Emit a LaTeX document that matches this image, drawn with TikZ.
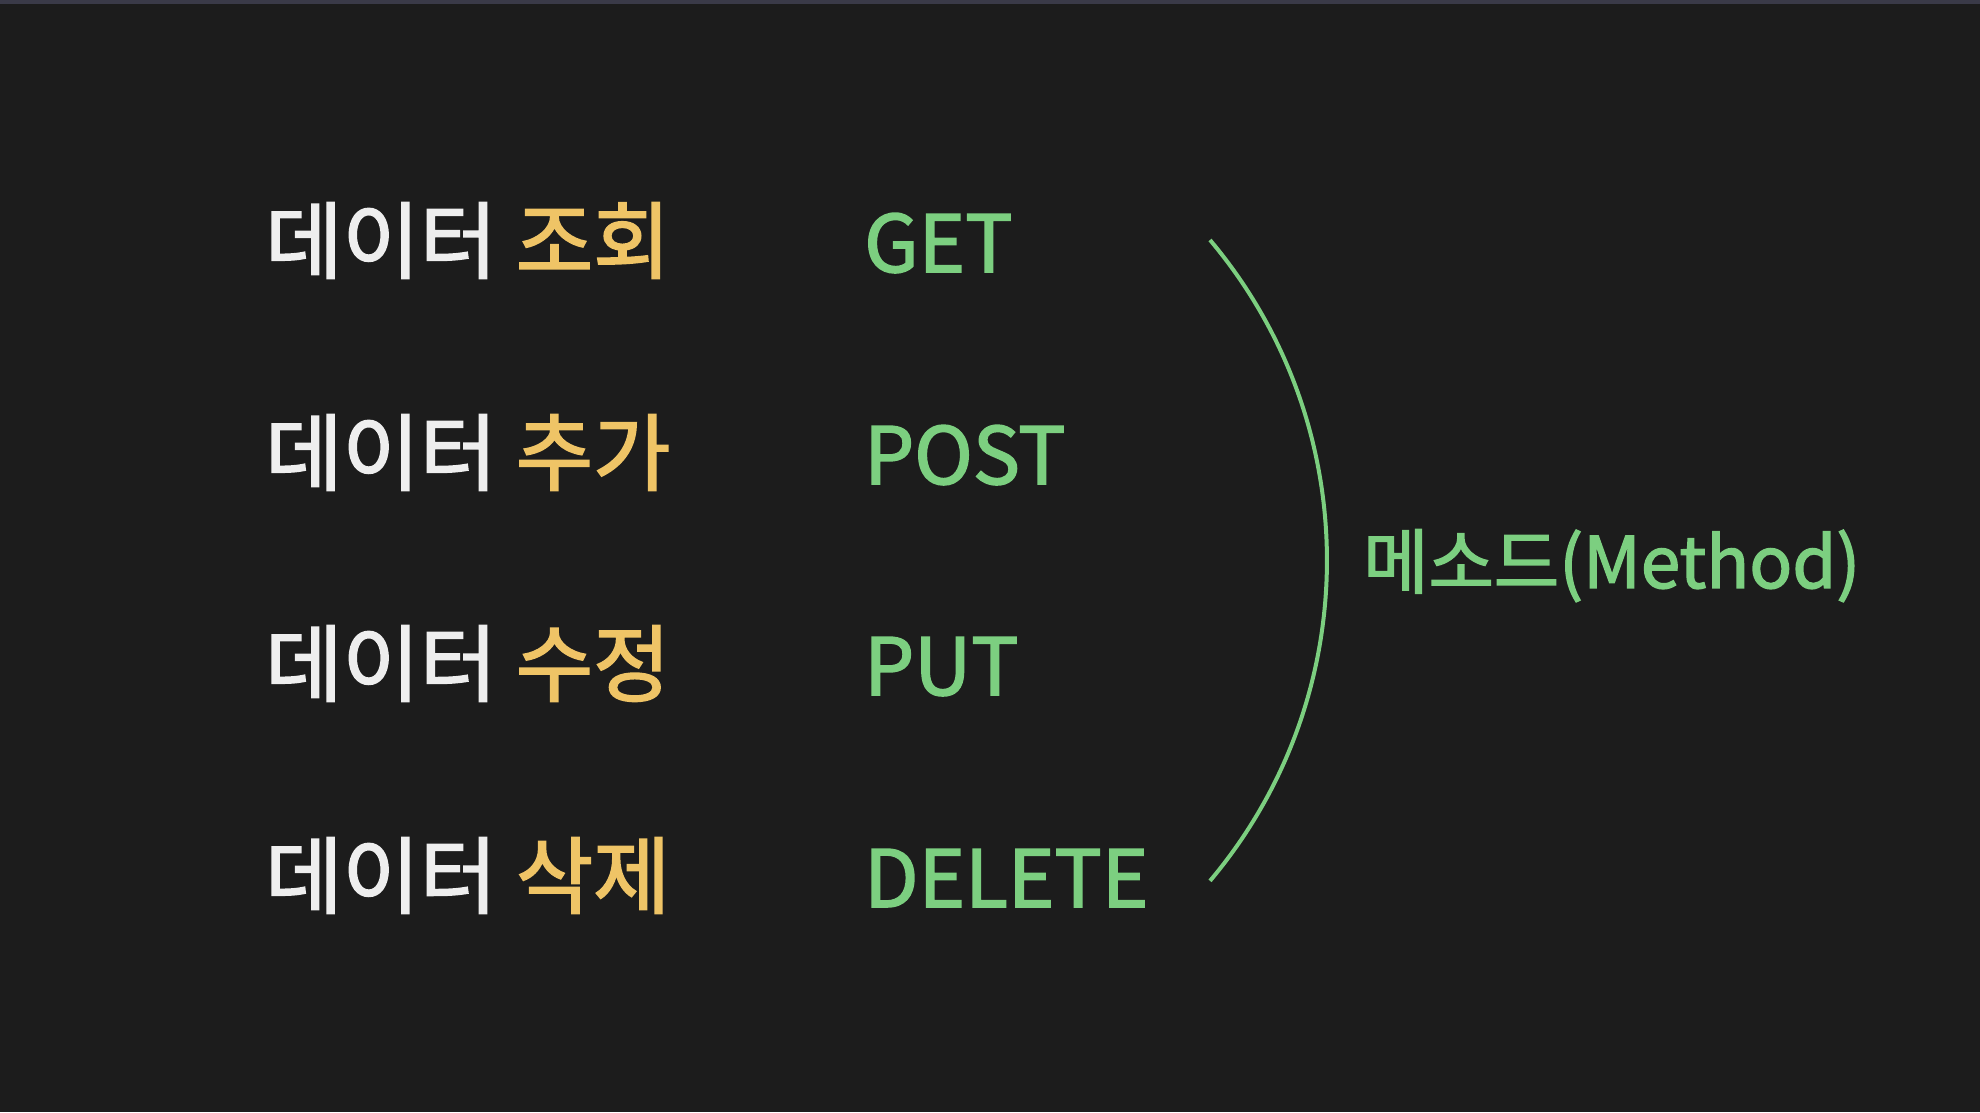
\documentclass[tikz,border=0pt]{standalone}
\usepackage{fontspec}
\setmainfont{Noto Sans CJK KR}[FakeBold=2]
\definecolor{bg}{HTML}{1C1C1C}
\definecolor{topbar}{HTML}{3A3A48}
\definecolor{txtwhite}{HTML}{EEEEEE}
\definecolor{txtyellow}{HTML}{EFC466}
\definecolor{txtgreen}{HTML}{7CCF80}
\begin{document}
\begin{tikzpicture}[x=1pt,y=1pt,
  rowlabel/.style={anchor=base west,inner sep=0pt,text=txtwhite,font=\fontsize{84}{100}\selectfont},
  methodlabel/.style={anchor=base west,inner sep=0pt,text=txtgreen,font=\fontsize{79}{96}\selectfont},
  grouplabel/.style={anchor=base west,inner sep=0pt,text=txtgreen,font=\fontsize{71}{86}\selectfont},
  bracket/.style={draw=txtgreen,line width=4pt}]
\fill[bg] (0,0) rectangle (1980,1112);
\fill[topbar] (0,1108) rectangle (1980,1112);
\useasboundingbox (0,0) rectangle (1980,1112);
\node[rowlabel] (r1) at (265,840) {데이터 \textcolor{txtyellow}{조회}};
\node[rowlabel] (r2) at (265,628) {데이터 \textcolor{txtyellow}{추가}};
\node[rowlabel] (r3) at (265,417) {데이터 \textcolor{txtyellow}{수정}};
\node[rowlabel] (r4) at (265,205) {데이터 \textcolor{txtyellow}{삭제}};
\node[methodlabel] (m1) at (864,840) {GET};
\node[methodlabel] (m2) at (864,628) {POST};
\node[methodlabel] (m3) at (864,417) {PUT};
\node[methodlabel] (m4) at (864,205) {DELETE};
\node[grouplabel] (g) at (1363,524) {메소드(Method)};
\coordinate (arcstart) at (1210,872);
\draw[bracket] (arcstart) arc[start angle=40.1,end angle=-40.1,radius=497.5];
\end{tikzpicture}
\end{document}
